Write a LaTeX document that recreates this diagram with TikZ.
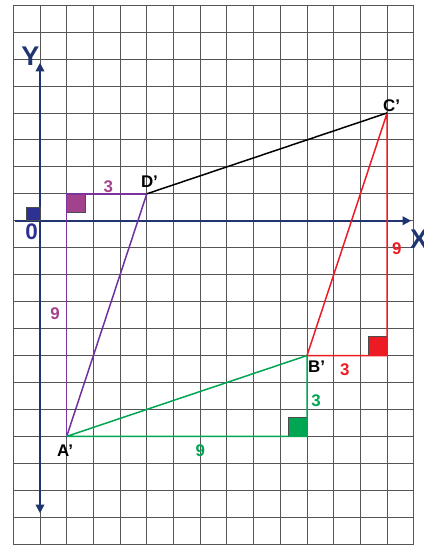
\documentclass[tikz,border=0pt]{standalone}
\usepackage{fontspec}
\setmainfont{Liberation Sans}
\usepackage{xcolor}
\definecolor{axc}{HTML}{1F3570}
\definecolor{orc}{HTML}{2E3192}
\definecolor{pur}{HTML}{7030A0}
\definecolor{purf}{HTML}{A3428C}
\definecolor{redc}{HTML}{ED1C24}
\definecolor{grn}{HTML}{00A651}
\definecolor{gridc}{HTML}{555555}
\usetikzlibrary{arrows.meta,positioning}
\tikzset{
  >={Triangle[length=1.6mm,width=1.6mm]},
  gridln/.style={draw=gridc,line width=0.45pt},
  axis/.style={<->,draw=axc,line width=0.9pt},
  seg/.style={line width=0.8pt},
  ptlab/.style={font=\bfseries\small,text=black,inner sep=1pt},
  numlab/.style={font=\bfseries\small,inner sep=1pt},
  sqmark/.style={draw=black!70,line width=0.4pt},
}
\begin{document}
\begin{tikzpicture}[x=5mm,y=5.047mm]
\useasboundingbox (-1.498,-12.03) rectangle (14.345,8.19);
% grid
\foreach \i in {-1,...,14}{ \draw[gridln] (\i,-12) -- (\i,8); }
\foreach \j in {-12,...,8}{ \draw[gridln] (-1,\j) -- (14,\j); }
% axes
\coordinate (xs) at (-0.95,0);
\coordinate (xe) at (13.9,0);
\coordinate (ys) at (0,-10.85);
\coordinate (ye) at (0,5.86);
\draw[axis,-{Triangle[length=1.6mm,width=1.6mm]}] (xs) -- (xe);
\draw[axis] (ys) -- (ye);
\node[font=\bfseries\Large,text=axc,inner sep=0pt] (ylab) at (-0.36,6.11) {Y};
\node[font=\bfseries\Large,text=axc,inner sep=0pt,anchor=west] (xlab) at (13.85,-0.7) {X};
\draw[sqmark,fill=orc] (-0.5,0) rectangle (0,0.5);
\node[font=\bfseries\large,text=orc,inner sep=0pt] (org) at (-0.31,-0.42) {0};
% points
\coordinate (A) at (1,-8);
\coordinate (B) at (10,-5);
\coordinate (C) at (13,4);
\coordinate (D) at (4,1);
\coordinate (Pa) at (1,1);
\coordinate (Pb) at (10,-8);
\coordinate (Pc) at (13,-5);
% right angle marks
\draw[sqmark,fill=purf] (1,0.3) rectangle (1.7,1);
\draw[sqmark,fill=grn] (9.3,-7.3) rectangle (10,-8);
\draw[sqmark,fill=redc] (12.3,-4.3) rectangle (13,-5);
% triangles
\draw[seg,pur!80!purf] (D) -- (Pa) -- (A);
\draw[seg,pur] (A) -- (D);
\draw[seg,grn] (A) -- (Pb) -- (B) -- (A);
\draw[seg,redc] (B) -- (Pc) -- (C) -- (B);
\draw[seg,black] (D) -- (C);
% labels
\node[ptlab] (la) at (0.94,-8.52) {A’};
\node[ptlab] (lb) at (10.36,-5.43) {B’};
\node[ptlab] (lc) at (13.17,4.27) {C’};
\node[ptlab] (ld) at (4.1,1.45) {D’};
\node[numlab,text=purf] (n1) at (2.56,1.27) {3};
\node[numlab,text=purf] (n2) at (0.56,-3.43) {9};
\node[numlab,text=grn] (n3) at (6,-8.52) {9};
\node[numlab,text=grn] (n4) at (10.34,-6.67) {3};
\node[numlab,text=redc] (n5) at (11.42,-5.52) {3};
\node[numlab,text=redc] (n6) at (13.36,-1.03) {9};
\end{tikzpicture}
\end{document}
